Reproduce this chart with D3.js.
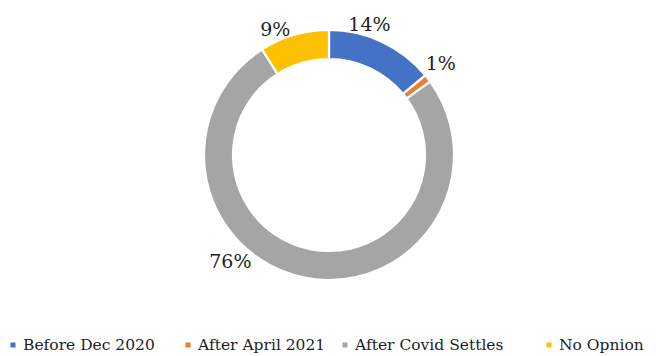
<!DOCTYPE html>
<html>
<head>
<meta charset="utf-8">
<script src="https://cdn.jsdelivr.net/npm/d3@7"></script>
<style>
  html, body { margin: 0; padding: 0; background: #fff; }
  svg { display: block; }
  text { font-family: "DejaVu Serif", serif; fill: #1e1e1e; }
</style>
</head>
<body>
<svg id="chart" width="656" height="356"></svg>
<script>
// Survey answers: when should things reopen?
const categories = ["Before Dec 2020", "After April 2021", "After Covid Settles", "No Opnion"];
const shares = [14, 1, 76, 9];
const labels = ["14%", "1%", "76%", "9%"];
const palette = ["#4472C4", "#ED7D31", "#A5A5A5", "#FFC000"];

const W = 656, H = 356;
const cx = 329, cy = 155;
const outerR = 125, innerR = 96;

const svg = d3.select("#chart");
const color = d3.scaleOrdinal().domain(categories).range(palette);

const pie = d3.pie().sort(null).value(d => d.v);
const arcs = pie(categories.map((c, i) => ({ c, v: shares[i], label: labels[i] })));

const arc = d3.arc().innerRadius(innerR).outerRadius(outerR);

const g = svg.append("g").attr("transform", `translate(${cx},${cy})`);
g.selectAll("path.slice")
  .data(arcs)
  .join("path")
  .attr("class", "slice")
  .attr("d", arc)
  .attr("fill", d => color(d.data.c))
  .attr("stroke", "#fff")
  .attr("stroke-width", 2.2);

// Outside-end labels; the big slice's label sits toward the lower left
const labelAngle = d => {
  const mid = (d.startAngle + d.endAngle) / 2;
  if (d.data.c === "After Covid Settles") return mid + 0.56;
  if (d.data.c === "No Opnion") return mid - 0.12;
  if (d.data.c === "Before Dec 2020") return mid - 0.14;
  return mid - 0.03;
};
const labelR = d => (d.data.c === "Before Dec 2020" || d.data.c === "No Opnion") ? 137 : 145;

g.selectAll("text.lbl")
  .data(arcs)
  .join("text")
  .attr("class", "lbl")
  .attr("x", d => labelR(d) * Math.sin(labelAngle(d)))
  .attr("y", d => -labelR(d) * Math.cos(labelAngle(d)))
  .attr("text-anchor", "middle")
  .attr("dominant-baseline", "central")
  .attr("font-size", 19)
  .text(d => d.data.label);

// Legend along the bottom
const legend = svg.append("g").attr("transform", `translate(0,${H - 11})`);
const legendX = [13, 188, 345, 549];
const items = legend.selectAll("g.item")
  .data(categories)
  .join("g")
  .attr("class", "item")
  .attr("transform", (d, i) => `translate(${legendX[i]},0)`);
items.append("rect")
  .attr("x", -2.5).attr("y", -2.5)
  .attr("width", 5).attr("height", 5)
  .attr("fill", d => color(d));
items.append("text")
  .attr("x", 10)
  .attr("y", 0)
  .attr("dominant-baseline", "central")
  .attr("font-size", 15.5)
  .text(d => d);
</script>
</body>
</html>
